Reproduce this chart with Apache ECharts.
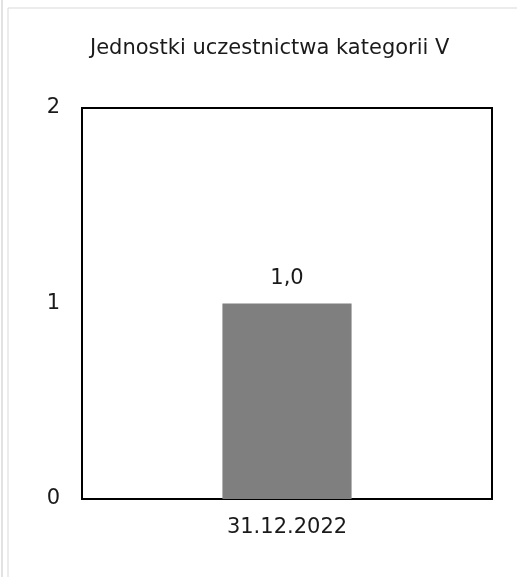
<!DOCTYPE html>
<html>
<head>
<meta charset="utf-8">
<script src="https://cdn.jsdelivr.net/npm/echarts@6/dist/echarts.min.js"></script>
<style>
  * { margin: 0; padding: 0; }
  body { background: #fff; }
  #main { width: 517px; height: 577px; }
</style>
</head>
<body>
<div id="main"></div>
<script>
  // dane wykresu
  var categories = ['31.12.2022'];
  var values = [1.0];
  var yTicks = [0, 1, 2];
  var chartTitle = 'Jednostki uczestnictwa kategorii V';

  var font = 'DejaVu Sans';
  var chart = echarts.init(document.getElementById('main'));
  chart.setOption({
    animation: false,
    title: {
      text: chartTitle,
      left: 85,
      top: 33,
      textStyle: { fontFamily: font, fontSize: 21, fontWeight: 'normal', color: '#1a1a1a' }
    },
    graphic: [
      { type: 'rect', shape: { x: 8, y: 8, width: 600, height: 600 }, style: { fill: 'none', stroke: '#d9d9d9', lineWidth: 1 } },
      { type: 'line', shape: { x1: 2, y1: 0, x2: 2, y2: 577 }, style: { stroke: '#d9d9d9', lineWidth: 1.5 } }
    ],
    grid: {
      left: 82, right: 25, top: 108, bottom: 78,
      show: true, borderColor: '#000', borderWidth: 2, backgroundColor: '#fff'
    },
    xAxis: {
      type: 'category',
      data: categories,
      axisLine: { lineStyle: { color: '#000', width: 2 } },
      axisTick: { show: false },
      axisLabel: { fontFamily: font, fontSize: 21, color: '#1a1a1a', margin: 18 }
    },
    yAxis: {
      type: 'value',
      min: yTicks[0],
      max: yTicks[yTicks.length - 1],
      interval: 1,
      splitLine: { show: false },
      axisLine: { show: false },
      axisTick: { show: false },
      axisLabel: { fontFamily: font, fontSize: 21, color: '#1a1a1a', margin: 22 }
    },
    series: [{
      type: 'bar',
      data: values,
      barWidth: '31.5%',
      itemStyle: { color: '#7f7f7f' },
      label: {
        show: true,
        position: 'top',
        distance: 14,
        fontFamily: font,
        fontSize: 21,
        color: '#1a1a1a',
        formatter: function (p) { return p.value.toFixed(1).replace('.', ','); }
      }
    }]
  });
</script>
</body>
</html>
